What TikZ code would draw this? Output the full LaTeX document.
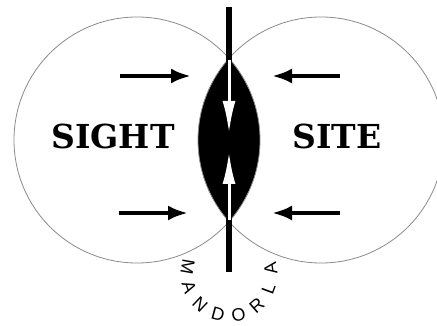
\documentclass[tikz,border=0pt]{standalone}
\usepackage{fontspec}
\newfontfamily\slab{DejaVu Serif}
\newfontfamily\grot{Liberation Sans}
\usetikzlibrary{arrows.meta}
\begin{document}
\begin{tikzpicture}[x=1pt,y=-1pt,
  circ/.style={draw=black!45, line width=0.8pt},
  word/.style={font=\slab\bfseries\fontsize{33}{33}\selectfont, inner sep=0pt},
  letter/.style={font=\grot\fontsize{18}{18}\selectfont, inner sep=0pt},
  blk/.style={line width=4.5pt, -{Latex[length=20pt,width=15pt]}},
  wht/.style={white, line width=3pt, -{Latex[length=32pt,width=13pt]}},
  bar/.style={line width=6pt}]
\useasboundingbox (0,0) rectangle (437,326);
\fill[white] (0,0) rectangle (437,326);
% lens
\begin{scope}
  \clip (137,140) circle (123pt);
  \fill[black] (321,140) circle (123pt);
\end{scope}
\draw[circ] (137,140) circle (123pt);
\draw[circ] (321,140) circle (123pt);
% vertical bar
\coordinate (bt1) at (229,7);
\coordinate (bt2) at (229,62);
\coordinate (bb1) at (229,218);
\coordinate (bb2) at (229,272);
\draw[bar] (bt1) -- (bt2);
\draw[bar] (bb1) -- (bb2);
% white arrows
\coordinate (wd1) at (229,60);
\coordinate (wd2) at (229,133);
\coordinate (wu1) at (229,220);
\coordinate (wu2) at (229,152);
\draw[wht] (wd1) -- (wd2);
\draw[wht] (wu1) -- (wu2);
% black arrows
\coordinate (tl1) at (120,76);
\coordinate (tl2) at (191,76);
\coordinate (tr1) at (340,76);
\coordinate (tr2) at (272,76);
\coordinate (bl1) at (119,213);
\coordinate (bl2) at (188,213);
\coordinate (br1) at (340,213);
\coordinate (br2) at (272,213);
\draw[blk] (tl1) -- (tl2);
\draw[blk] (tr1) -- (tr2);
\draw[blk] (bl1) -- (bl2);
\draw[blk] (br1) -- (br2);
% words
\node[word] (sight) at (113,136) {SIGHT};
\node[word] (site) at (337,136) {SITE};
% MANDORLA on arc
\foreach \ch [count=\i] in {M,A,N,D,O,R,L,A} {
  \pgfmathsetmacro{\ang}{190-(\i-1)*28.3}
  \node[letter, rotate={90-\ang}] (m\i) at ({229+42*cos(\ang)},{274+42*sin(\ang)}) {\ch};
}
\end{tikzpicture}
\end{document}
